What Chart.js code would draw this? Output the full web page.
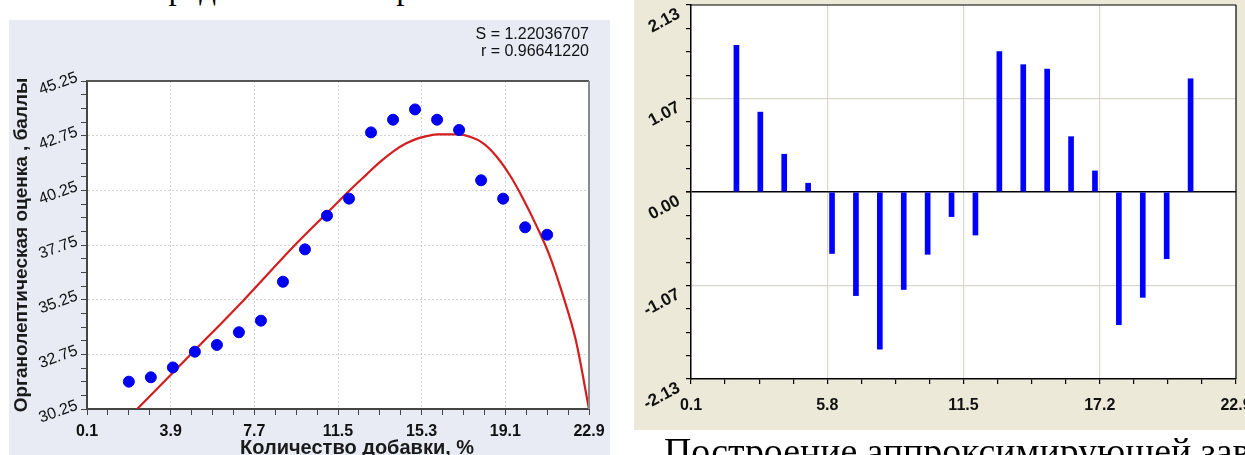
<!DOCTYPE html>
<html>
<head>
<meta charset="utf-8">
<script src="https://cdn.jsdelivr.net/npm/chart.js@4.4.0/dist/chart.umd.min.js"></script>
<style>
  html, body { margin: 0; padding: 0; width: 1245px; height: 455px; overflow: hidden; background: #fff; position: relative; }
  .serif { position: absolute; font-family: "Liberation Serif", "Times New Roman", serif; white-space: nowrap; color: #000; }
  #topText { left: 127px; top: -30px; font-size: 33px; }
  #bottomText { left: 664px; top: 429px; font-size: 37.8px; }
  #leftPanel { position: absolute; left: 9px; top: 20px; width: 601px; height: 435px; background: #e8ebf4; }
  #rightPanel { position: absolute; left: 634px; top: 0; width: 611px; height: 430px; background: #ece9d8; }
  canvas { position: absolute; left: 0; top: 0; }
  #stats { position: absolute; right: 21px; top: 5px; font: 16px/17px "Liberation Sans", Arial, sans-serif; color: #111; text-align: right; }
</style>
</head>
<body>
<div class="serif" id="topText">Определение экспериментальной зависимости</div>
<div id="leftPanel">
  <canvas id="fitChart" width="601" height="435"></canvas>
  <div id="stats">S = 1.22036707<br>r = 0.96641220</div>
</div>
<div id="rightPanel">
  <canvas id="residChart" width="611" height="430"></canvas>
</div>
<div class="serif" id="bottomText">Построение аппроксимирующей зависимости</div>

<script>
// добавка, %
const additive = [2, 3, 4, 5, 6, 7, 8, 9, 10, 11, 12, 13, 14, 15, 16, 17, 18, 19, 20, 21];
// органолептическая оценка, баллы
const score = [31.5, 31.7, 32.15, 32.87, 33.18, 33.76, 34.29, 36.07, 37.55, 39.09,
               39.87, 42.9, 43.48, 43.95, 43.48, 43.01, 40.71, 39.87, 38.56, 38.22];
// остатки
const residual = [1.67, 0.91, 0.43, 0.10, -0.70, -1.18, -1.79, -1.11, -0.71, -0.28,
                  -0.49, 1.60, 1.45, 1.40, 0.63, 0.24, -1.51, -1.20, -0.76, 1.29];

// аппроксимирующая кривая
const curveX = [2.38, 4.93, 7.15, 9.47, 10.99, 12.0, 12.8, 13.4, 14.0, 14.6, 15.2, 15.8,
                16.0, 16.9, 17.5, 18.1, 18.7, 19.3, 19.9, 20.5, 21.1, 21.7, 22.3, 22.9];
const curveY = [30.25, 32.87, 35.16, 37.67, 39.2, 40.22, 40.98, 41.54, 42.02, 42.4, 42.65, 42.79,
                42.81, 42.81, 42.7, 42.4, 41.8, 40.95, 39.88, 38.66, 37.29, 35.5, 33.4, 30.25];

const fitXTicks = [0.1, 3.9, 7.7, 11.5, 15.3, 19.1, 22.9];
const fitXLabels = ['0.1', '3.9', '7.7', '11.5', '15.3', '19.1', '22.9'];
const fitYTicks = [30.25, 32.75, 35.25, 37.75, 40.25, 42.75, 45.25];
const fitYLabels = ['30.25', '32.75', '35.25', '37.75', '40.25', '42.75', '45.25'];

const resXTicks = [0.1, 5.8, 11.5, 17.2, 22.9];
const resXLabels = ['0.1', '5.8', '11.5', '17.2', '22.9'];
const resYTicks = [-2.13, -1.065, 0, 1.065, 2.13];
const resYLabels = ['-2.13', '-1.07', '0.00', '1.07', '2.13'];

const SUB = 4;
const sans = '"Liberation Sans", Arial, sans-serif';

function withMinor(majors, sub) {
  const out = [];
  for (let i = 0; i < majors.length - 1; i++) {
    const step = (majors[i + 1] - majors[i]) / sub;
    for (let k = 0; k < sub; k++) out.push({value: majors[i] + k * step});
  }
  out.push({value: majors[majors.length - 1]});
  return out;
}

const labelFrom = (labels) => (v, i) => (i % SUB === 0 ? labels[i / SUB] : '');

const plotFrame = {
  id: 'plotFrame',
  beforeDraw(chart) {
    const {ctx, chartArea: a} = chart;
    ctx.save();
    ctx.fillStyle = '#ffffff';
    ctx.fillRect(a.left, a.top, a.right - a.left, a.bottom - a.top);
    ctx.restore();
  },
  afterDraw(chart, args, opts) {
    const {ctx, chartArea: a} = chart;
    ctx.save();
    ctx.lineWidth = opts.width;
    ctx.strokeStyle = opts.top;
    ctx.beginPath(); ctx.moveTo(a.left, a.top); ctx.lineTo(a.right, a.top); ctx.stroke();
    ctx.strokeStyle = opts.right;
    ctx.beginPath(); ctx.moveTo(a.right, a.top); ctx.lineTo(a.right, a.bottom); ctx.stroke();
    if (opts.xTitle) {
      ctx.fillStyle = '#1a1a1a';
      ctx.font = 'bold 20px ' + sans;
      ctx.textAlign = 'center';
      ctx.textBaseline = 'middle';
      ctx.fillText(opts.xTitle, a.left + (a.right - a.left) * 0.538, chart.height - 7);
    }
    ctx.restore();
  }
};

new Chart(document.getElementById('fitChart'), {
  type: 'scatter',
  data: {
    datasets: [
      {
        label: 'Эксперимент',
        data: additive.map((x, i) => ({x: x, y: score[i]})),
        backgroundColor: '#0000f2',
        borderColor: '#0000f2',
        pointRadius: 5.5,
        order: 0
      },
      {
        type: 'line',
        label: 'Аппроксимация',
        data: curveX.map((x, i) => ({x: x, y: curveY[i]})),
        borderColor: '#d21e1e',
        borderWidth: 2.2,
        pointRadius: 0,
        fill: false,
        cubicInterpolationMode: 'monotone',
        order: 1
      }
    ]
  },
  options: {
    responsive: false,
    animation: false,
    layout: {padding: {top: 61, right: 21, left: 0, bottom: 0}},
    plugins: {
      legend: {display: false},
      tooltip: {enabled: false},
      plotFrame: {width: 2, top: '#555', right: '#8a8a8a', xTitle: 'Количество добавки, %'}
    },
    scales: {
      x: {
        type: 'linear', min: 0.1, max: 22.9,
        afterBuildTicks: (s) => { s.ticks = withMinor(fitXTicks, SUB); },
        afterFit: (s) => { s.height = 46; s.paddingLeft = 0; s.paddingRight = 0; },
        ticks: {autoSkip: false, maxRotation: 0, padding: 7, color: '#111',
                font: {family: sans, size: 16, weight: 'bold'}, callback: labelFrom(fitXLabels)},
        grid: {color: (c) => (c.index % SUB === 0 ? '#cfd2d8' : 'rgba(0,0,0,0)'),
               tickColor: '#444', tickLength: 6, lineWidth: 1},
        border: {color: '#444', width: 2, dash: [2, 2]}
      },
      y: {
        type: 'linear', min: 30.25, max: 45.25,
        afterBuildTicks: (s) => { s.ticks = withMinor(fitYTicks, SUB); },
        afterFit: (s) => { s.width = 78; s.paddingTop = 0; s.paddingBottom = 0; },
        ticks: {autoSkip: false, minRotation: 20, maxRotation: 20, padding: 4, labelOffset: -4,
                color: '#111', font: {family: sans, size: 16}, callback: labelFrom(fitYLabels)},
        grid: {color: (c) => (c.index % SUB === 0 ? '#cfd2d8' : 'rgba(0,0,0,0)'),
               tickColor: '#444', tickLength: 6, lineWidth: 1},
        border: {color: '#444', width: 2, dash: [2, 2]},
        title: {display: true, text: 'Органолептическая оценка , баллы', color: '#1a1a1a',
                font: {family: sans, size: 19, weight: 'bold'}, padding: {top: 1, bottom: 0}}
      }
    }
  },
  plugins: [plotFrame]
});

new Chart(document.getElementById('residChart'), {
  type: 'bar',
  data: {
    datasets: [{
      label: 'Остатки',
      data: additive.map((x, i) => ({x: x, y: residual[i]})),
      backgroundColor: '#0000ff',
      borderWidth: 0,
      barThickness: 5
    }]
  },
  options: {
    responsive: false,
    animation: false,
    layout: {padding: {top: 5, right: 9, left: 0, bottom: 0}},
    plugins: {
      legend: {display: false},
      tooltip: {enabled: false},
      plotFrame: {width: 1.2, top: '#000', right: '#000'}
    },
    scales: {
      x: {
        type: 'linear', min: 0.1, max: 22.9, offset: false,
        afterBuildTicks: (s) => { s.ticks = withMinor(resXTicks, SUB); },
        afterFit: (s) => { s.height = 51; s.paddingLeft = 0; s.paddingRight = 0; },
        ticks: {autoSkip: false, maxRotation: 0, padding: 12, color: '#111',
                font: {family: sans, size: 16, weight: 'bold'}, callback: labelFrom(resXLabels)},
        grid: {offset: false,
               color: (c) => (c.index % SUB === 0 && c.index > 0 && c.index < resXTicks.length * SUB - SUB ? '#d8d5cb' : 'rgba(0,0,0,0)'),
               tickColor: '#000', tickLength: 5, lineWidth: 1.2},
        border: {color: '#000', width: 1.5}
      },
      y: {
        type: 'linear', min: -2.13, max: 2.13,
        afterBuildTicks: (s) => { s.ticks = withMinor(resYTicks, SUB); },
        afterFit: (s) => { s.width = 57; s.paddingTop = 0; s.paddingBottom = 0; },
        ticks: {autoSkip: false, minRotation: 28, maxRotation: 28, padding: 7, labelOffset: 8,
                color: '#111', font: {family: sans, size: 17, weight: 'bold'}, callback: labelFrom(resYLabels)},
        grid: {color: (c) => {
                 if (c.tick && c.tick.value === 0) return '#000';
                 return (c.index % SUB === 0 && c.index > 0 && c.index < resYTicks.length * SUB - SUB) ? '#d8d5cb' : 'rgba(0,0,0,0)';
               },
               lineWidth: (c) => (c.tick && c.tick.value === 0 ? 1.6 : 1.2),
               tickColor: '#000', tickLength: 5},
        border: {color: '#000', width: 1.5}
      }
    }
  },
  plugins: [plotFrame]
});
</script>
</body>
</html>
